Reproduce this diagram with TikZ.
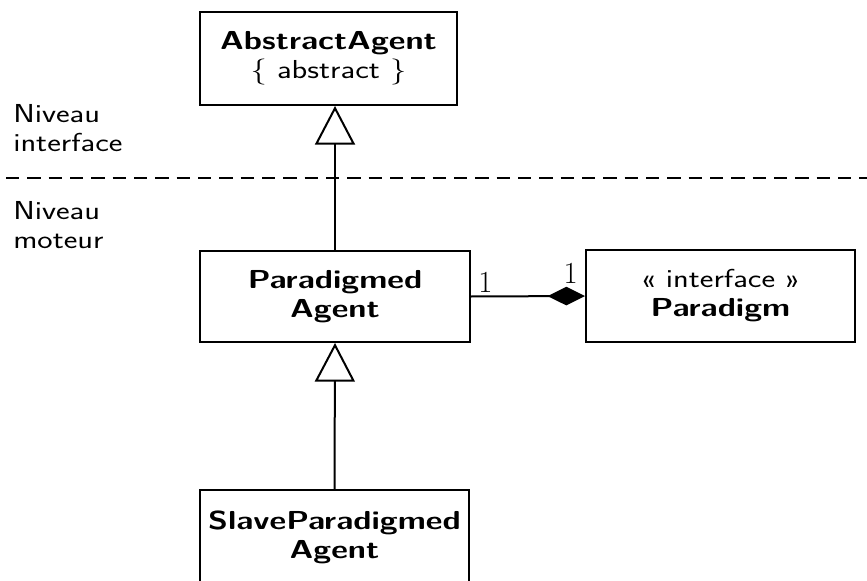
\documentclass[tikz,border=0pt]{standalone}
\usepackage{fontspec}
\setsansfont{Latin Modern Sans}[FakeStretch=1.25]
\usetikzlibrary{arrows.meta}

\tikzset{
  classe/.style={draw, line width=1.5pt, align=center, inner sep=0pt,
    font=\fontsize{19.5}{21.75}\selectfont\sffamily},
  niveau/.style={anchor=north west, align=left, inner sep=0pt,
    font=\fontsize{19.5}{21.75}\selectfont\sffamily},
  mult/.style={inner sep=0pt, font=\fontsize{23}{24}\selectfont\rmfamily},
  herite/.style={line width=1.5pt, -{Triangle[open, length=29pt, width=30pt]}},
  compose/.style={line width=1.5pt, -{Diamond[length=28pt, width=14pt]}},
  separation/.style={line width=1.5pt, dash pattern=on 10pt off 6pt}
}

\begin{document}
\begin{tikzpicture}[x=0.75pt, y=-0.75pt]
  \useasboundingbox (0,0) rectangle (867,581);

  % classes
  \node[classe, minimum width=192.75pt, minimum height=69.75pt] (aagent) at (328.5,58.5)
    {\textbf{AbstractAgent}\\\{ abstract \}};
  \node[classe, minimum width=202.5pt, minimum height=68.25pt] (pagent) at (335,296.5)
    {\textbf{Paradigmed}\\\textbf{Agent}};
  \node[classe, minimum width=201.75pt, minimum height=69pt] (paradigm) at (720.5,296)
    {« interface »\\\textbf{Paradigm}};
  \node[classe, minimum width=201.75pt, minimum height=71.25pt] (sagent) at (334.5,537.5)
    {\textbf{SlaveParadigmed}\\\textbf{Agent}};

  % niveaux
  \draw[separation] (6,178) -- (867,178);
  \node[niveau] (nint) at (13,104) {Niveau\\interface};
  \node[niveau] (nmot) at (13,201) {Niveau\\moteur};

  % heritage
  \draw[herite] (pagent.north) -- (pagent.north |- aagent.south);
  \draw[herite] (sagent.north) -- (pagent.south);

  % composition
  \draw[compose] (pagent.east) -- (paradigm.west);
  \node[mult, anchor=south west] (m1) at ([shift={(7,-4)}]pagent.east) {1};
  \node[mult, anchor=south east] (m2) at ([shift={(-7,-12.5)}]paradigm.west) {1};
\end{tikzpicture}
\end{document}
